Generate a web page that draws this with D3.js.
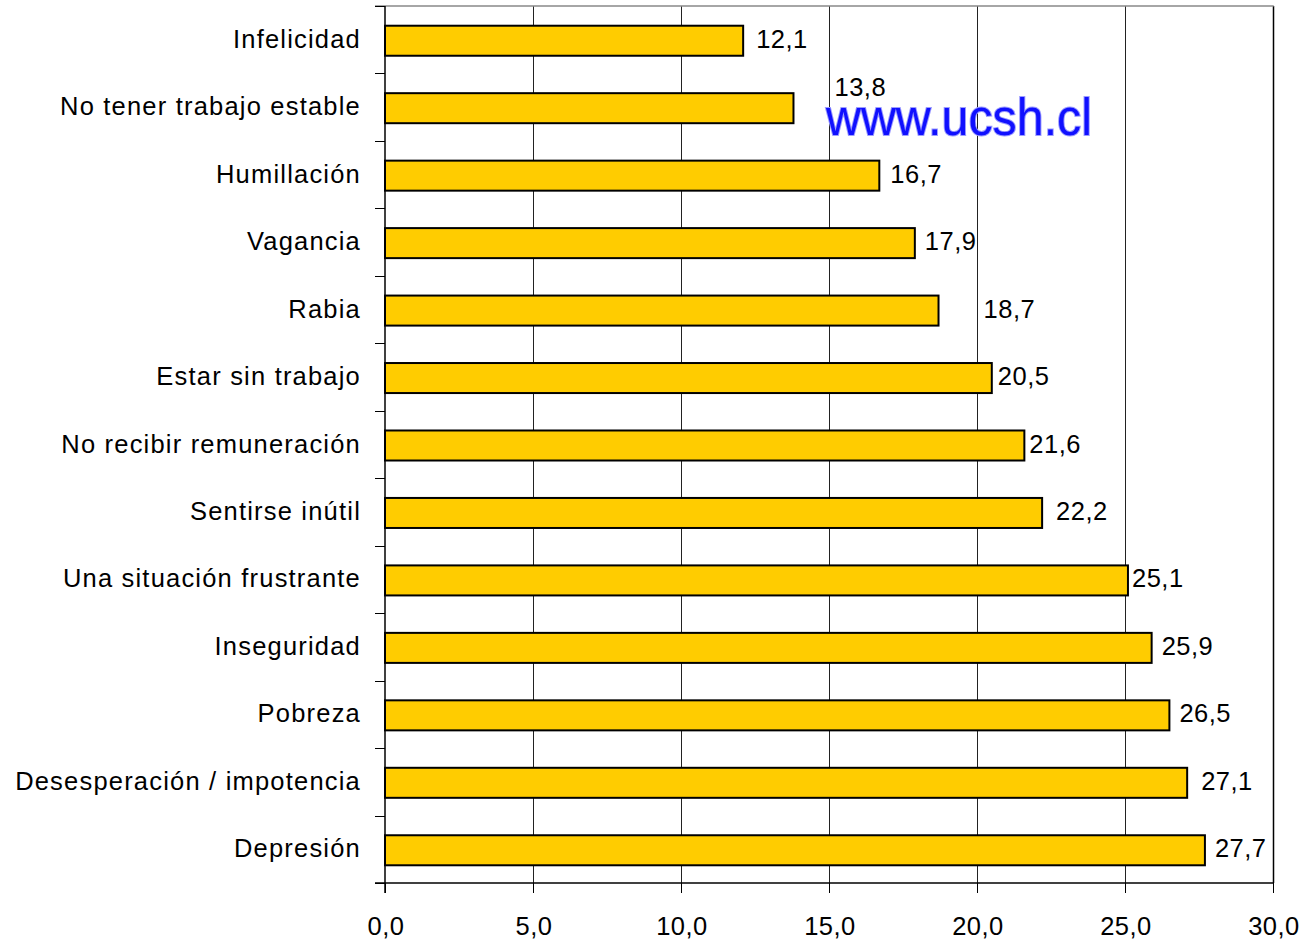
<!DOCTYPE html>
<html>
<head>
<meta charset="utf-8">
<script src="https://cdn.jsdelivr.net/npm/d3@7"></script>
<style>
  body { margin: 0; background: #fff; }
  svg { display: block; font-family: "Liberation Sans", Arial, sans-serif; }
</style>
</head>
<body>
<svg id="chart" width="1304" height="939"></svg>
<script>
// categories from top to bottom, as in the original chart
const categories = [
  "Infelicidad",
  "No tener trabajo estable",
  "Humillación",
  "Vagancia",
  "Rabia",
  "Estar sin trabajo",
  "No recibir remuneración",
  "Sentirse inútil",
  "Una situación frustrante",
  "Inseguridad",
  "Pobreza",
  "Desesperación / impotencia",
  "Depresión"
];
const values = [12.1, 13.8, 16.7, 17.9, 18.7, 20.5, 21.6, 22.2, 25.1, 25.9, 26.5, 27.1, 27.7];
const xTicks = [0, 5, 10, 15, 20, 25, 30];

const margin = {top: 6, right: 31, bottom: 56, left: 385};
const width = 1304, height = 939;

const svg = d3.select("#chart");

let x = d3.scaleLinear().domain([0, 30]).range([margin.left, width - margin.right]);
let y = d3.scaleBand().domain(categories)
  .range([margin.top, height - margin.bottom])
  .paddingInner(0.555).paddingOuter(0.2775);

const fmt = v => d3.format(".1f")(v).replace(".", ",");
const px = v => Math.round(v) + 0.5; // crisp 1px lines

// gridlines
svg.append("g").selectAll("line")
  .data(xTicks.slice(1))
  .join("line")
  .attr("x1", d => px(x(d))).attr("x2", d => px(x(d)))
  .attr("y1", margin.top).attr("y2", height - margin.bottom)
  .attr("stroke", d => d === 30 ? "#000" : "#222")
  .attr("stroke-width", d => d === 30 ? 1.5 : 1);

// top border
svg.append("line")
  .attr("x1", margin.left - 10).attr("x2", x(30) + 0.75)
  .attr("y1", margin.top).attr("y2", margin.top)
  .attr("stroke", "#888").attr("stroke-width", 1.5);

// watermark
svg.append("text")
  .attr("transform", "translate(826,135) scale(0.93,1)")
  .attr("font-size", 52)
  .attr("fill", "#1010ff")
  .attr("stroke", "#9c9cff")
  .attr("stroke-width", 2)
  .attr("paint-order", "stroke")
  .text("www.ucsh.cl");

// bars
svg.append("g").selectAll("rect")
  .data(values)
  .join("rect")
  .attr("x", x(0))
  .attr("y", (d, i) => y(categories[i]) + 1)
  .attr("width", d => x(d) - x(0))
  .attr("height", y.bandwidth())
  .attr("fill", "#ffcc00")
  .attr("stroke", "#000")
  .attr("stroke-width", 2);

// y axis (category ticks on band boundaries)
const step = y.step();
const yAxisG = svg.append("g");
yAxisG.append("line")
  .attr("x1", margin.left).attr("x2", margin.left)
  .attr("y1", margin.top).attr("y2", height - margin.bottom + 10)
  .attr("stroke", "#000").attr("stroke-width", 1.5);
yAxisG.selectAll(".tk")
  .data(d3.range(categories.length + 1))
  .join("line")
  .attr("x1", margin.left - 10).attr("x2", margin.left)
  .attr("y1", i => px(margin.top + i * step)).attr("y2", i => px(margin.top + i * step))
  .attr("stroke", "#000").attr("stroke-width", 1);

yAxisG.selectAll("text")
  .data(categories)
  .join("text")
  .attr("x", 361)
  .attr("y", d => y(d) + y.bandwidth() / 2 + 8)
  .attr("text-anchor", "end")
  .attr("font-size", 25.5)
  .attr("letter-spacing", 1.2)
  .attr("fill", "#000")
  .text(d => d);

// x axis
const xAxisG = svg.append("g");
xAxisG.append("line")
  .attr("x1", margin.left - 10).attr("x2", x(30))
  .attr("y1", height - margin.bottom).attr("y2", height - margin.bottom)
  .attr("stroke", "#000").attr("stroke-width", 1.5);
xAxisG.selectAll(".tk")
  .data(xTicks)
  .join("line")
  .attr("x1", d => px(x(d))).attr("x2", d => px(x(d)))
  .attr("y1", height - margin.bottom).attr("y2", height - margin.bottom + 10)
  .attr("stroke", "#000").attr("stroke-width", 1);
xAxisG.selectAll("text")
  .data(xTicks)
  .join("text")
  .attr("x", d => x(d) + 1)
  .attr("y", 935)
  .attr("text-anchor", "middle")
  .attr("font-size", 25.5)
  .attr("letter-spacing", 0.5)
  .text(d => fmt(d));

// value labels; some were nudged by hand in the original chart
const nudge = {
  "Infelicidad": [13, 0],
  "No tener trabajo estable": [41, -19],
  "Humillación": [11, 0],
  "Rabia": [45, 0],
  "Estar sin trabajo": [6, 0],
  "No recibir remuneración": [5, 0],
  "Sentirse inútil": [14, 0],
  "Una situación frustrante": [4, 0],
  "Desesperación / impotencia": [14, 0]
};
svg.append("g").selectAll("text")
  .data(values)
  .join("text")
  .attr("x", (d, i) => x(d) + (nudge[categories[i]] ? nudge[categories[i]][0] : 10))
  .attr("y", (d, i) => y(categories[i]) + y.bandwidth() / 2 + 8 + (nudge[categories[i]] ? nudge[categories[i]][1] : 0))
  .attr("font-size", 25.5)
  .attr("letter-spacing", 0.5)
  .attr("fill", "#000")
  .text(d => fmt(d));
</script>
</body>
</html>
